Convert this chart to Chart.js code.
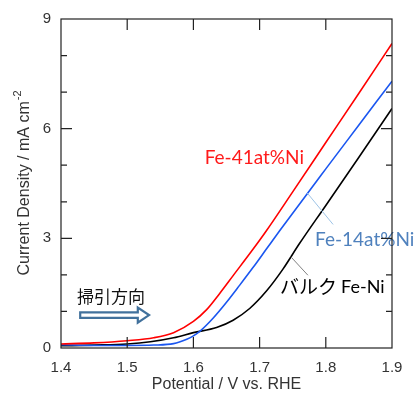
<!DOCTYPE html>
<html>
<head>
<meta charset="utf-8">
<script src="https://cdn.jsdelivr.net/npm/chart.js@4/dist/chart.umd.min.js"></script>
<style>
  html, body { margin: 0; padding: 0; background: #fff; }
  #wrap { width: 414px; height: 396px; }
</style>
</head>
<body>
<div id="wrap"><canvas id="lsvChart" width="414" height="396"></canvas></div>
<script>
// Fe-41at%Ni sweep (V vs. RHE / mA cm-2)
const potRed = [1.40, 1.45, 1.50, 1.54, 1.57, 1.60, 1.62, 1.64, 1.66, 1.69, 1.71, 1.75, 1.80, 1.85, 1.90];
const jRed   = [0.11, 0.14, 0.20, 0.28, 0.42, 0.73, 1.05, 1.50, 1.98, 2.70, 3.20, 4.27, 5.62, 6.97, 8.33];

// Fe-14at%Ni sweep
const potBlue = [1.40, 1.45, 1.50, 1.54, 1.57, 1.59, 1.60, 1.61, 1.63, 1.65, 1.67, 1.69, 1.71, 1.73, 1.80, 1.85, 1.90];
const jBlue   = [0.09, 0.07, 0.07, 0.08, 0.12, 0.24, 0.33, 0.46, 0.82, 1.25, 1.72, 2.20, 2.70, 3.20, 4.90, 6.10, 7.30];

// bulk Fe-Ni sweep
const potBlack = [1.40, 1.45, 1.50, 1.535, 1.57, 1.60, 1.635, 1.66, 1.685, 1.71, 1.735, 1.76, 1.80, 1.85, 1.90];
const jBlack   = [0.06, 0.08, 0.11, 0.17, 0.28, 0.42, 0.56, 0.76, 1.08, 1.55, 2.15, 2.85, 3.90, 5.22, 6.55];

// axis ticks
const xTicks = [1.4, 1.5, 1.6, 1.7, 1.8, 1.9];
const yMajor = [0, 3, 6, 9];
const yMinor = [1, 2, 4, 5, 7, 8];

const LATIN = '"Liberation Sans", Arial, sans-serif';
const LABEL = 'Lato, "Open Sans", sans-serif';
const CJK = '"Noto Sans CJK JP", sans-serif';

function toPoints(xs, ys) {
    return xs.map((x, i) => ({ x: x, y: ys[i] }));
}

// frame with inward ticks on all four sides
const framePlugin = {
    id: 'frame',
    afterDraw(chart) {
        const ctx = chart.ctx;
        const a = chart.chartArea;
        const xs = chart.scales.x;
        const ys = chart.scales.y;
        ctx.save();
        ctx.strokeStyle = '#222';
        ctx.lineWidth = 1.2;
        ctx.strokeRect(a.left, a.top, a.right - a.left, a.bottom - a.top);
        ctx.beginPath();
        xTicks.slice(1, -1).forEach(v => {
            const px = xs.getPixelForValue(v);
            ctx.moveTo(px, a.bottom); ctx.lineTo(px, a.bottom - 11);
            ctx.moveTo(px, a.top); ctx.lineTo(px, a.top + 11);
        });
        yMajor.slice(1, -1).forEach(v => {
            const py = ys.getPixelForValue(v);
            ctx.moveTo(a.left, py); ctx.lineTo(a.left + 11, py);
            ctx.moveTo(a.right, py); ctx.lineTo(a.right - 11, py);
        });
        yMinor.forEach(v => {
            const py = ys.getPixelForValue(v);
            ctx.moveTo(a.left, py); ctx.lineTo(a.left + 6, py);
            ctx.moveTo(a.right, py); ctx.lineTo(a.right - 6, py);
        });
        ctx.stroke();

        // y axis title with superscript
        ctx.translate(25, (a.top + a.bottom) / 2);
        ctx.rotate(-Math.PI / 2);
        ctx.fillStyle = '#333';
        ctx.textBaseline = 'middle';
        const main = 'Current Density / mA cm';
        ctx.font = '11px ' + LATIN;
        const supW = ctx.measureText('-2').width;
        ctx.font = '16px ' + LATIN;
        const mainW = ctx.measureText(main).width;
        const start = -(mainW + supW) / 2;
        ctx.textAlign = 'left';
        ctx.fillText(main, start, 0);
        ctx.font = '11px ' + LATIN;
        ctx.fillText('-2', start + mainW + 1, -7);
        ctx.restore();
    }
};

// curve labels, leader lines and sweep-direction arrow
const notePlugin = {
    id: 'notes',
    afterDatasetsDraw(chart) {
        const ctx = chart.ctx;
        const xs = chart.scales.x;
        const ys = chart.scales.y;
        const px = v => xs.getPixelForValue(v);
        const py = v => ys.getPixelForValue(v);
        ctx.save();
        ctx.textBaseline = 'middle';
        ctx.textAlign = 'left';

        ctx.font = '19px ' + LABEL;
        ctx.fillStyle = '#ff1a1a';
        ctx.fillText('Fe-41at%Ni', px(1.617), py(5.2));

        ctx.strokeStyle = '#9dc3e6';
        ctx.lineWidth = 1;
        ctx.beginPath();
        ctx.moveTo(px(1.772), py(4.24));
        ctx.lineTo(px(1.811), py(3.38));
        ctx.stroke();
        ctx.fillStyle = '#4f81bd';
        ctx.fillText('Fe-14at%Ni', px(1.7837), py(2.95));

        ctx.strokeStyle = '#808080';
        ctx.beginPath();
        ctx.moveTo(px(1.747), py(2.5));
        ctx.lineTo(px(1.773), py(1.99));
        ctx.stroke();
        ctx.fillStyle = '#000';
        ctx.font = '19px ' + CJK;
        ctx.fillText('バルク', px(1.731), py(1.67));
        const w = ctx.measureText('バルク').width;
        ctx.font = '18px ' + LABEL;
        ctx.fillText('Fe-Ni', px(1.731) + w + 4, py(1.67));

        ctx.font = '17px ' + CJK;
        ctx.fillStyle = '#111';
        ctx.fillText('掃引方向', px(1.424), py(1.42));

        // hollow arrow
        const x0 = px(1.429), x1 = px(1.516), x2 = px(1.533);
        const yc = py(0.90);
        ctx.beginPath();
        ctx.moveTo(x0, yc - 2.8);
        ctx.lineTo(x1, yc - 2.8);
        ctx.lineTo(x1, yc - 7.5);
        ctx.lineTo(x2, yc);
        ctx.lineTo(x1, yc + 7.5);
        ctx.lineTo(x1, yc + 2.8);
        ctx.lineTo(x0, yc + 2.8);
        ctx.closePath();
        ctx.fillStyle = '#fff';
        ctx.fill();
        ctx.strokeStyle = '#41719c';
        ctx.lineWidth = 2.2;
        ctx.stroke();
        ctx.restore();
    }
};

document.addEventListener('DOMContentLoaded', function() {
    const ctx = document.getElementById('lsvChart').getContext('2d');
    new Chart(ctx, {
        type: 'line',
        data: {
            datasets: [
                { label: 'Fe-41at%Ni', data: toPoints(potRed, jRed), borderColor: '#ff0000' },
                { label: 'Fe-14at%Ni', data: toPoints(potBlue, jBlue), borderColor: '#1a56f0' },
                { label: 'バルク Fe-Ni', data: toPoints(potBlack, jBlack), borderColor: '#000000' }
            ]
        },
        options: {
            responsive: false,
            animation: false,
            devicePixelRatio: 1,
            layout: { padding: { top: 19, right: 22, left: 0, bottom: 0 } },
            elements: {
                point: { radius: 0 },
                line: { borderWidth: 1.6, cubicInterpolationMode: 'monotone', fill: false }
            },
            plugins: {
                legend: { display: false },
                tooltip: { enabled: false }
            },
            scales: {
                x: {
                    type: 'linear',
                    min: 1.4,
                    max: 1.9,
                    afterFit: s => { s.height = 48; },
                    afterBuildTicks: s => { s.ticks = xTicks.map(v => ({ value: v })); },
                    grid: { display: false, drawTicks: false },
                    border: { display: false },
                    ticks: {
                        padding: 11,
                        color: '#333',
                        font: { family: LATIN, size: 15 },
                        maxRotation: 0,
                        callback: v => v.toFixed(1)
                    },
                    title: {
                        display: true,
                        text: 'Potential / V vs. RHE',
                        color: '#333',
                        font: { family: LATIN, size: 16 },
                        padding: { top: 0, bottom: 2 }
                    }
                },
                y: {
                    min: 0,
                    max: 9,
                    afterFit: s => { s.width = 61; },
                    afterBuildTicks: s => { s.ticks = yMajor.map(v => ({ value: v })); },
                    grid: { display: false, drawTicks: false },
                    border: { display: false },
                    ticks: {
                        padding: 10,
                        color: '#333',
                        font: { family: LATIN, size: 15 }
                    }
                }
            }
        },
        plugins: [framePlugin, notePlugin]
    });
});
</script>
</body>
</html>
